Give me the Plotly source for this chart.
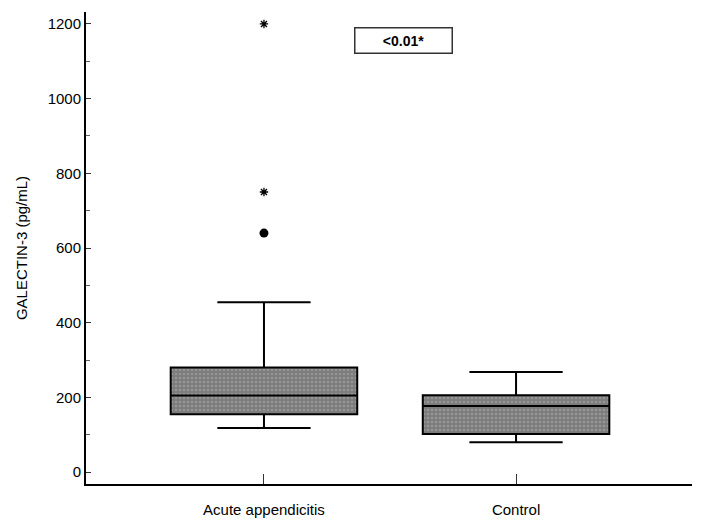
import plotly.graph_objects as go

categories = ["Acute appendicitis", "Control"]
q1 = [155, 102]
median = [205, 177]
q3 = [280, 206]
lower_whisker = [118, 80]
upper_whisker = [455, 268]

outlier_star_x = ["Acute appendicitis", "Acute appendicitis"]
outlier_star_y = [1200, 750]
outlier_dot_x = ["Acute appendicitis"]
outlier_dot_y = [640]

p_text = "<b><0.01*</b>"
y_title = "GALECTIN-3 (pg/mL)"

box_w = 0.74
fig = go.Figure()

# patterned box fill
fig.add_trace(go.Bar(
    x=categories, y=[a - b for a, b in zip(q3, q1)], base=q1, width=box_w,
    marker=dict(color="#7c7c7c", line=dict(width=0),
                pattern=dict(shape=".", fgcolor="#b0b0b0", bgcolor="#7c7c7c", size=4, solidity=0.35)),
    showlegend=False, hoverinfo="skip"))

fig.add_trace(go.Box(
    x=categories, q1=q1, median=median, q3=q3,
    lowerfence=lower_whisker, upperfence=upper_whisker,
    width=box_w, whiskerwidth=0.5, boxpoints=False,
    fillcolor="rgba(0,0,0,0)", line=dict(color="black", width=2),
    showlegend=False))

fig.add_trace(go.Scatter(
    x=outlier_star_x, y=outlier_star_y, mode="markers",
    marker=dict(symbol="asterisk-open", size=7, color="black", line=dict(color="black", width=1.3)),
    showlegend=False))
fig.add_trace(go.Scatter(
    x=outlier_dot_x, y=outlier_dot_y, mode="markers",
    marker=dict(symbol="circle", size=9, color="black"),
    showlegend=False))

fig.add_annotation(x=0.555, y=1155, xref="x", yref="y", text=p_text, showarrow=False,
                   font=dict(family="Liberation Sans, Arial", size=14, color="black"),
                   bordercolor="#333", borderwidth=1.5, borderpad=4, width=88, bgcolor="white")

fig.update_layout(
    width=705, height=524,
    margin=dict(l=86, r=13, t=12, b=40),
    paper_bgcolor="white", plot_bgcolor="white",
    font=dict(family="Liberation Sans, Arial", size=15, color="black"),
    xaxis=dict(type="category", range=[-0.706, 1.698], showline=True, linecolor="black", linewidth=2,
               ticks="inside", ticklen=10, tickwidth=1, tickcolor="#333", showgrid=False, zeroline=False,
               tickfont=dict(size=15), ticklabelstandoff=11, automargin=False),
    yaxis=dict(range=[-32, 1232], showline=True, linecolor="black", linewidth=2,
               tickvals=[0, 200, 400, 600, 800, 1000, 1200],
               ticks="inside", ticklen=5, tickwidth=1, tickcolor="#333",
               minor=dict(tickvals=[100, 300, 500, 700, 900, 1100], ticks="inside", ticklen=4, tickcolor="#666"),
               showgrid=False, zeroline=False, title=dict(text=y_title, font=dict(size=15), standoff=16),
               tickfont=dict(size=15), automargin=False),
)

fig.write_html("out.html")
